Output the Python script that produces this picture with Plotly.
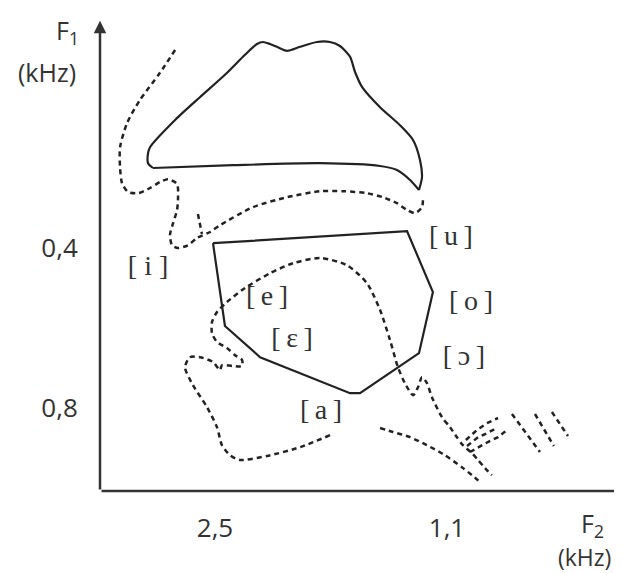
import plotly.graph_objects as go

# F2 / F1 in kHz
upper_top_f2 = [2.874, 2.904, 2.904, 2.892, 2.741, 2.591, 2.440, 2.319, 2.247, 2.210, 2.168, 2.126,
                2.066, 1.987, 1.885, 1.806, 1.746, 1.685, 1.655, 1.613, 1.504, 1.384, 1.305, 1.263,
                1.251, 1.269]
upper_top_f1 = [0.200, 0.188, 0.163, 0.148, 0.080, 0.023, -0.033, -0.083, -0.110, -0.115, -0.110, -0.103,
                -0.093, -0.103, -0.115, -0.115, -0.105, -0.078, -0.040, -0.003, 0.048, 0.093, 0.130, 0.180,
                0.223, 0.255]
upper_bot_f2 = [1.269, 1.323, 1.402, 1.504, 1.866, 2.391, 2.874]
upper_bot_f1 = [0.255, 0.230, 0.205, 0.195, 0.188, 0.193, 0.200]

quad_f2 = [2.512, 1.341, 1.185, 1.269, 1.625, 1.685, 2.228, 2.440, 2.512]
quad_f1 = [0.388, 0.358, 0.510, 0.663, 0.763, 0.763, 0.673, 0.595, 0.388]

front_f2 = [2.741, 2.832, 2.953, 3.031, 3.073, 3.073, 3.061, 3.025, 2.965, 2.892, 2.832, 2.784, 2.729,
            2.723, 2.729, 2.753, 2.772, 2.759, 2.723, 2.663, 2.609, 2.530, 2.470, 2.271, 2.066, 1.866,
            1.728, 1.583, 1.486, 1.402, 1.341, 1.293, 1.251, 1.245]
front_f1 = [-0.095, -0.038, 0.030, 0.088, 0.148, 0.198, 0.238, 0.260, 0.263, 0.250, 0.235, 0.228, 0.240,
            0.273, 0.305, 0.338, 0.368, 0.393, 0.400, 0.393, 0.375, 0.360, 0.343, 0.298, 0.273, 0.258,
            0.258, 0.263, 0.273, 0.288, 0.305, 0.313, 0.298, 0.275]
stub_f2 = [2.603, 2.579]
stub_f1 = [0.315, 0.365]

arch_f2 = [1.806, 1.987, 2.186, 2.349, 2.409, 2.458, 2.488, 2.548, 2.633, 2.681, 2.651, 2.591, 2.512,
           2.470, 2.458, 2.391, 2.337, 2.337, 2.379, 2.428, 2.488, 2.518, 2.518, 2.488, 2.428, 2.319,
           2.168, 2.029, 1.866, 1.704, 1.583, 1.504, 1.444, 1.396, 1.354, 1.305, 1.275, 1.251, 1.221,
           1.191, 1.130, 1.082, 1.040, 1.004, 0.949, 0.913, 0.871, 0.829]
arch_f1 = [0.868, 0.898, 0.920, 0.930, 0.918, 0.893, 0.848, 0.798, 0.743, 0.698, 0.673, 0.673, 0.685,
           0.705, 0.693, 0.695, 0.695, 0.680, 0.668, 0.650, 0.635, 0.613, 0.585, 0.560, 0.535, 0.500,
           0.463, 0.438, 0.425, 0.443, 0.488, 0.555, 0.630, 0.698, 0.738, 0.768, 0.748, 0.723, 0.738,
           0.773, 0.823, 0.848, 0.873, 0.893, 0.913, 0.930, 0.950, 0.968]

low_f2 = [1.504, 1.426, 1.323, 1.221, 1.124, 1.010, 0.949, 0.901]
low_f1 = [0.850, 0.860, 0.873, 0.893, 0.915, 0.948, 0.968, 0.985]

hatch_f2 = [[0.986, 0.919, 0.859, 0.792],
            [0.979, 0.919, 0.859, 0.798],
            [0.961, 0.913, 0.853, 0.792, 0.738],
            [0.708, 0.539],
            [0.569, 0.455],
            [0.467, 0.370]]
hatch_f1 = [[0.880, 0.855, 0.838, 0.825],
            [0.895, 0.875, 0.863, 0.850],
            [0.910, 0.898, 0.885, 0.873, 0.855],
            [0.815, 0.910],
            [0.815, 0.895],
            [0.810, 0.870]]

vowels = ["[ i ]", "[\u2009u\u2009]", "[\u2009e\u2009]", "[\u2009ɛ\u2009]", "[\u2009o\u2009]",
          "[\u2009ɔ\u2009]", "[\u2009a\u2009]"]
vowel_f2 = [2.904, 1.076, 2.186, 2.035, 0.955, 0.998, 1.860]
vowel_f1 = [0.450, 0.375, 0.525, 0.630, 0.5375, 0.675, 0.810]

f2_ticks = [2.5, 1.1]
f2_ticktext = ["2,5", "1,1"]
f1_ticks = [0.4, 0.8]
f1_ticktext = ["0,4", "0,8"]

X_RANGE = [3.194, 0.056]
Y_RANGE = [1.0075, -0.17]
X_TIP = 0.01
Y_TIP = -0.168

INK = "#222222"
TEXT = "#333333"
solid = dict(color=INK, width=2.2)
dotted = dict(color=INK, width=2.5, dash="5px,4px")

fig = go.Figure()

fig.add_trace(go.Scatter(x=upper_top_f2, y=upper_top_f1, mode="lines",
                         line=dict(shape="spline", smoothing=0.7, **solid)))
fig.add_trace(go.Scatter(x=upper_bot_f2, y=upper_bot_f1, mode="lines",
                         line=dict(shape="spline", smoothing=0.7, **solid)))
fig.add_trace(go.Scatter(x=quad_f2, y=quad_f1, mode="lines", line=solid))

for xs, ys in [(front_f2, front_f1), (stub_f2, stub_f1), (arch_f2, arch_f1), (low_f2, low_f1)]:
    fig.add_trace(go.Scatter(x=xs, y=ys, mode="lines",
                             line=dict(shape="spline", smoothing=0.7, **dotted)))
for xs, ys in zip(hatch_f2, hatch_f1):
    fig.add_trace(go.Scatter(x=xs, y=ys, mode="lines", line=dotted))

fig.add_trace(go.Scatter(x=vowel_f2, y=vowel_f1, mode="text", text=vowels,
                         textfont=dict(family="Liberation Serif, DejaVu Serif, serif", size=28, color=TEXT)))

# axes drawn as arrows
fig.add_annotation(x=X_TIP, y=Y_RANGE[0], ax=X_RANGE[0], ay=Y_RANGE[0],
                   xref="x", yref="y", axref="x", ayref="y", text="", showarrow=True,
                   arrowhead=2, arrowsize=1, arrowwidth=2.5, arrowcolor="#333")
fig.add_annotation(x=X_RANGE[0], y=Y_TIP, ax=X_RANGE[0], ay=Y_RANGE[0],
                   xref="x", yref="y", axref="x", ayref="y", text="", showarrow=True,
                   arrowhead=2, arrowsize=1, arrowwidth=2.5, arrowcolor="#333")

label_font = dict(family="Open Sans, Lato, sans-serif", size=26, color=TEXT)
title_font = dict(family="Open Sans, Lato, sans-serif", size=25, color=TEXT)
small_title_font = dict(family="Open Sans, Lato, sans-serif", size=23, color=TEXT)
axis_titles = [("F<sub>1</sub>", -0.063, 0.975, title_font), ("(kHz)", -0.102, 0.890, title_font),
               ("F<sub>2</sub>", 0.948, -0.072, title_font), ("(kHz)", 0.931, -0.140, small_title_font)]
for text, px, py, font in axis_titles:
    fig.add_annotation(x=px, y=py, xref="paper", yref="paper", text=text, showarrow=False,
                       xanchor="center", yanchor="middle", font=font)

fig.update_xaxes(range=X_RANGE, tickvals=f2_ticks, ticktext=f2_ticktext, showgrid=False,
                 zeroline=False, showline=False, ticks="outside", ticklen=14, automargin=False,
                 tickcolor="rgba(0,0,0,0)", tickfont=label_font)
fig.update_yaxes(range=Y_RANGE, tickvals=f1_ticks, ticktext=f1_ticktext, showgrid=False,
                 zeroline=False, showline=False, ticks="outside", ticklen=16, automargin=False,
                 tickcolor="rgba(0,0,0,0)", tickfont=label_font)

# the page body adds an 8px offset, so the figure is 8px smaller than the window
fig.update_layout(width=614, height=565, showlegend=False,
                  margin=dict(l=92, r=2, t=12, b=82),
                  paper_bgcolor="white", plot_bgcolor="white")

fig.write_html("out.html")
